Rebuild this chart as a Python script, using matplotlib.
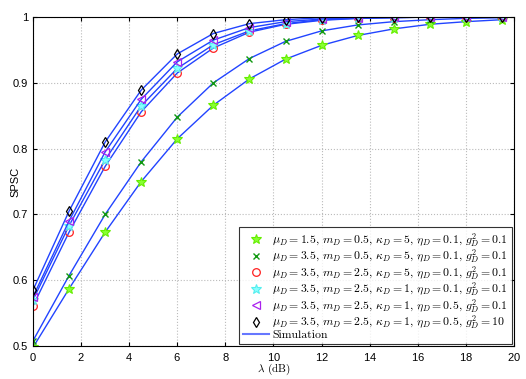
import numpy as np
import matplotlib
matplotlib.use('Agg')
import matplotlib.pyplot as plt
from matplotlib.lines import Line2D

plt.rcParams['mathtext.fontset'] = 'cm'
plt.rcParams['font.family'] = 'serif'
plt.rcParams['font.serif'] = ['cmr10', 'DejaVu Serif']
plt.rcParams['axes.formatter.use_mathtext'] = True

# lambda (dB) at the marker positions
lam = [0, 1.5, 3, 4.5, 6, 7.5, 9, 10.5, 12, 13.5, 15, 16.5, 18, 19.5]

spsc_1 = [0.498, 0.587, 0.673, 0.750, 0.815, 0.866, 0.906, 0.936, 0.957, 0.972, 0.982, 0.989, 0.993, 0.996]
spsc_2 = [0.508, 0.607, 0.700, 0.780, 0.848, 0.900, 0.937, 0.963, 0.979, 0.988, 0.993, 0.996, 0.998, 0.999]
spsc_3 = [0.561, 0.673, 0.773, 0.856, 0.915, 0.953, 0.977, 0.989, 0.995, 0.998, 0.999, 1.0, 1.0, 1.0]
spsc_4 = [0.570, 0.683, 0.783, 0.865, 0.922, 0.958, 0.979, 0.990, 0.996, 0.998, 0.999, 1.0, 1.0, 1.0]
spsc_5 = [0.575, 0.690, 0.795, 0.875, 0.932, 0.965, 0.984, 0.993, 0.997, 0.999, 1.0, 1.0, 1.0, 1.0]
spsc_6 = [0.585, 0.705, 0.810, 0.889, 0.944, 0.975, 0.990, 0.996, 0.999, 1.0, 1.0, 1.0, 1.0, 1.0]

labels = [
    r'$\mu_D=1.5,\, m_D=0.5,\, \kappa_D=5,\, \eta_D=0.1,\, g_D^2=0.1$',
    r'$\mu_D=3.5,\, m_D=0.5,\, \kappa_D=5,\, \eta_D=0.1,\, g_D^2=0.1$',
    r'$\mu_D=3.5,\, m_D=2.5,\, \kappa_D=5,\, \eta_D=0.1,\, g_D^2=0.1$',
    r'$\mu_D=3.5,\, m_D=2.5,\, \kappa_D=1,\, \eta_D=0.1,\, g_D^2=0.1$',
    r'$\mu_D=3.5,\, m_D=2.5,\, \kappa_D=1,\, \eta_D=0.5,\, g_D^2=0.1$',
    r'$\mu_D=3.5,\, m_D=2.5,\, \kappa_D=1,\, \eta_D=0.5,\, g_D^2=10$',
]

series = [spsc_1, spsc_2, spsc_3, spsc_4, spsc_5, spsc_6]
styles = [
    dict(marker='*', color='#66ee00', mfc='#88ff33', ms=7, mew=0.8),
    dict(marker='x', color='#119911', mfc='none', ms=4, mew=1.0),
    dict(marker='o', color='#ff2020', mfc='none', ms=5.5, mew=0.9),
    dict(marker='*', color='#55eeee', mfc='#88ffff', ms=7, mew=0.8),
    dict(marker='<', color='#aa22ee', mfc='none', ms=5.5, mew=0.9),
    dict(marker='d', color='black', mfc='none', ms=5.5, mew=0.9),
]
line_color = '#2244ff'

fig = plt.figure(figsize=(5.26, 3.79), dpi=100)
ax = fig.add_axes([0.0627, 0.087, 0.9145, 0.868])

handles = []
for y, st, lab in zip(series, styles, labels):
    ax.plot(lam, y, '-', color=line_color, lw=1.0)
    ax.plot(lam, y, linestyle='none', marker=st['marker'], color=st['color'],
            mfc=st['mfc'], ms=st['ms'], mew=st['mew'])
    handles.append(Line2D([], [], linestyle='none', marker=st['marker'], color=st['color'],
                          mfc=st['mfc'], ms=st['ms'], mew=st['mew'], label=lab))
handles.append(Line2D([], [], color='#6677ff', lw=1.5, label='Simulation'))

ax.set_xlim(0, 20)
ax.set_ylim(0.5, 1.0)
ax.set_xticks(np.arange(0, 21, 2))
ax.set_yticks(np.arange(0.5, 1.01, 0.1))
ax.set_yticklabels(['0.5', '0.6', '0.7', '0.8', '0.9', '1'])
ax.tick_params(direction='in', labelsize=8, top=True, right=True, length=3)
for t in ax.get_xticklabels() + ax.get_yticklabels():
    t.set_family('Liberation Sans')
ax.grid(True, linestyle=':', color='#bbbbbb', lw=0.8)
ax.set_xlabel(r'$\lambda$ (dB)', fontsize=8, labelpad=-1)
ax.set_ylabel('SPSC', fontsize=8, family='Liberation Sans')
ax.yaxis.set_label_coords(-0.025, 0.5)
for s in ax.spines.values():
    s.set_linewidth(0.8)

leg = ax.legend(handles=handles, loc='lower right', fontsize=8.5, frameon=True,
                fancybox=False, edgecolor='black', handlelength=2.2,
                borderaxespad=0.2, labelspacing=-0.12, handletextpad=0.3,
                borderpad=0.3)
leg.get_frame().set_linewidth(0.8)

fig.savefig('out.png', dpi=100)
